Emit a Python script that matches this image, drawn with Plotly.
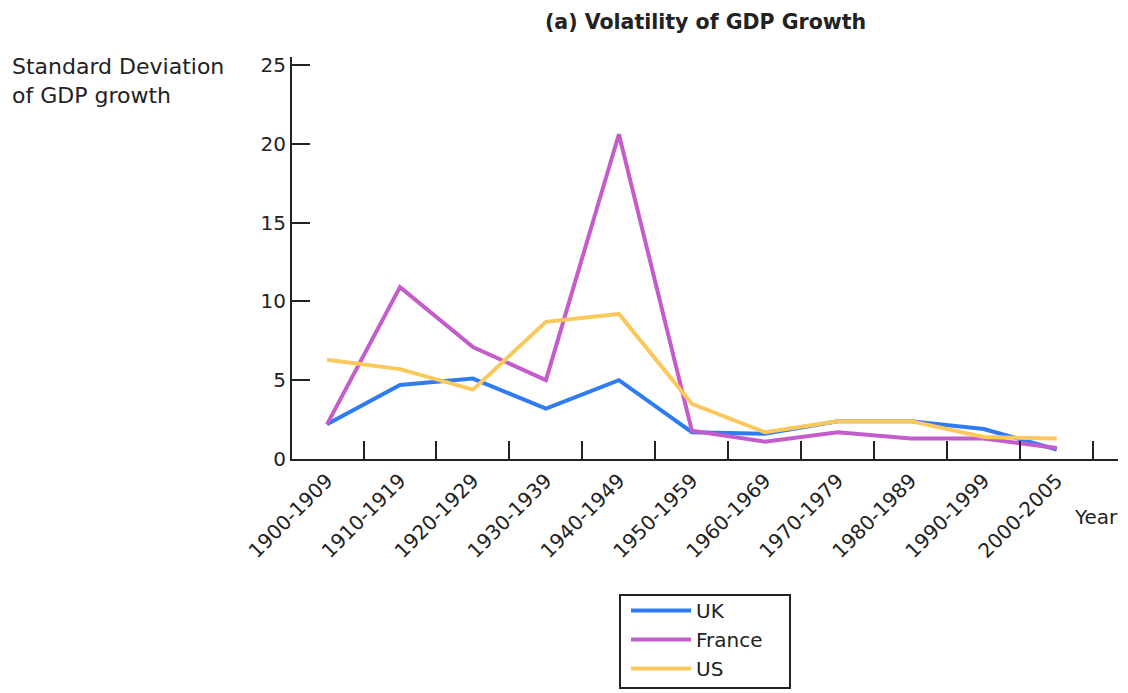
import plotly.graph_objects as go

categories = ["1900-1909", "1910-1919", "1920-1929", "1930-1939", "1940-1949",
              "1950-1959", "1960-1969", "1970-1979", "1980-1989", "1990-1999", "2000-2005"]
uk = [2.2, 4.7, 5.1, 3.2, 5.0, 1.7, 1.6, 2.4, 2.4, 1.9, 0.6]
france = [2.2, 10.9, 7.1, 5.0, 20.6, 1.8, 1.1, 1.7, 1.3, 1.3, 0.7]
us = [6.3, 5.7, 4.4, 8.7, 9.2, 3.5, 1.7, 2.4, 2.4, 1.4, 1.3]
y_ticks = [0, 5, 10, 15, 20, 25]

FONT = "DejaVu Sans"
fig = go.Figure()
for name, vals, col in [("UK", uk, "#2f7cf2"), ("France", france, "#c45ccc"), ("US", us, "#fbc95b")]:
    fig.add_trace(go.Scatter(x=categories, y=vals, mode="lines", name=name,
                             line=dict(color=col, width=4)))

W, H = 1128, 693
L, R, T, B = 292, 10, 57, 234
pw, ph = W - L - R, H - T - B

def px(x):
    return (x - L) / pw

def py(y):
    return (H - B - y) / ph

fig.update_layout(
    width=W, height=H,
    margin=dict(l=L, r=R, t=T, b=B, autoexpand=False),
    paper_bgcolor="white", plot_bgcolor="white",
    font=dict(family=FONT, size=20, color="#222"),
    showlegend=True,
    legend=dict(x=px(626), y=py(591), xanchor="left", yanchor="top",
                bgcolor="rgba(0,0,0,0)", borderwidth=0, font=dict(size=20),
                tracegroupgap=0, itemwidth=60),
    xaxis=dict(type="category", range=[-0.48, 10.84], showline=True, linecolor="#222",
               linewidth=2, ticks="inside", tickson="boundaries", ticklen=18,
               tickwidth=2, tickcolor="#222", tickangle=-45, showgrid=False,
               tickfont=dict(size=20), zeroline=False, automargin=False),
    yaxis=dict(range=[0, 25.5], tickvals=y_ticks, showline=True, linecolor="#222",
               linewidth=2, ticks="inside", ticklen=18, tickwidth=2, tickcolor="#222",
               showgrid=False, zeroline=False, tickfont=dict(size=20), automargin=False),
    shapes=[dict(type="rect", xref="paper", yref="paper",
                 x0=px(620), x1=px(790), y0=py(595), y1=py(688),
                 line=dict(color="#222", width=2), fillcolor="rgba(0,0,0,0)")],
    annotations=[
        dict(text="<b>(a) Volatility of GDP Growth</b>", xref="paper", yref="paper",
             x=px(705), y=py(22), xanchor="center", yanchor="middle", showarrow=False,
             font=dict(size=20.5)),
        dict(text="Standard Deviation<br>of GDP growth", xref="paper", yref="paper",
             x=px(10), y=py(52), xanchor="left", yanchor="top", align="left",
             showarrow=False, font=dict(size=22)),
        dict(text="Year", xref="paper", yref="paper", x=px(1072), y=py(517),
             xanchor="left", yanchor="middle", showarrow=False, font=dict(size=20)),
    ],
)

fig.write_html("out.html", config={"displayModeBar": False},
               post_script="document.body.style.margin='0';document.body.style.overflow='hidden';")
